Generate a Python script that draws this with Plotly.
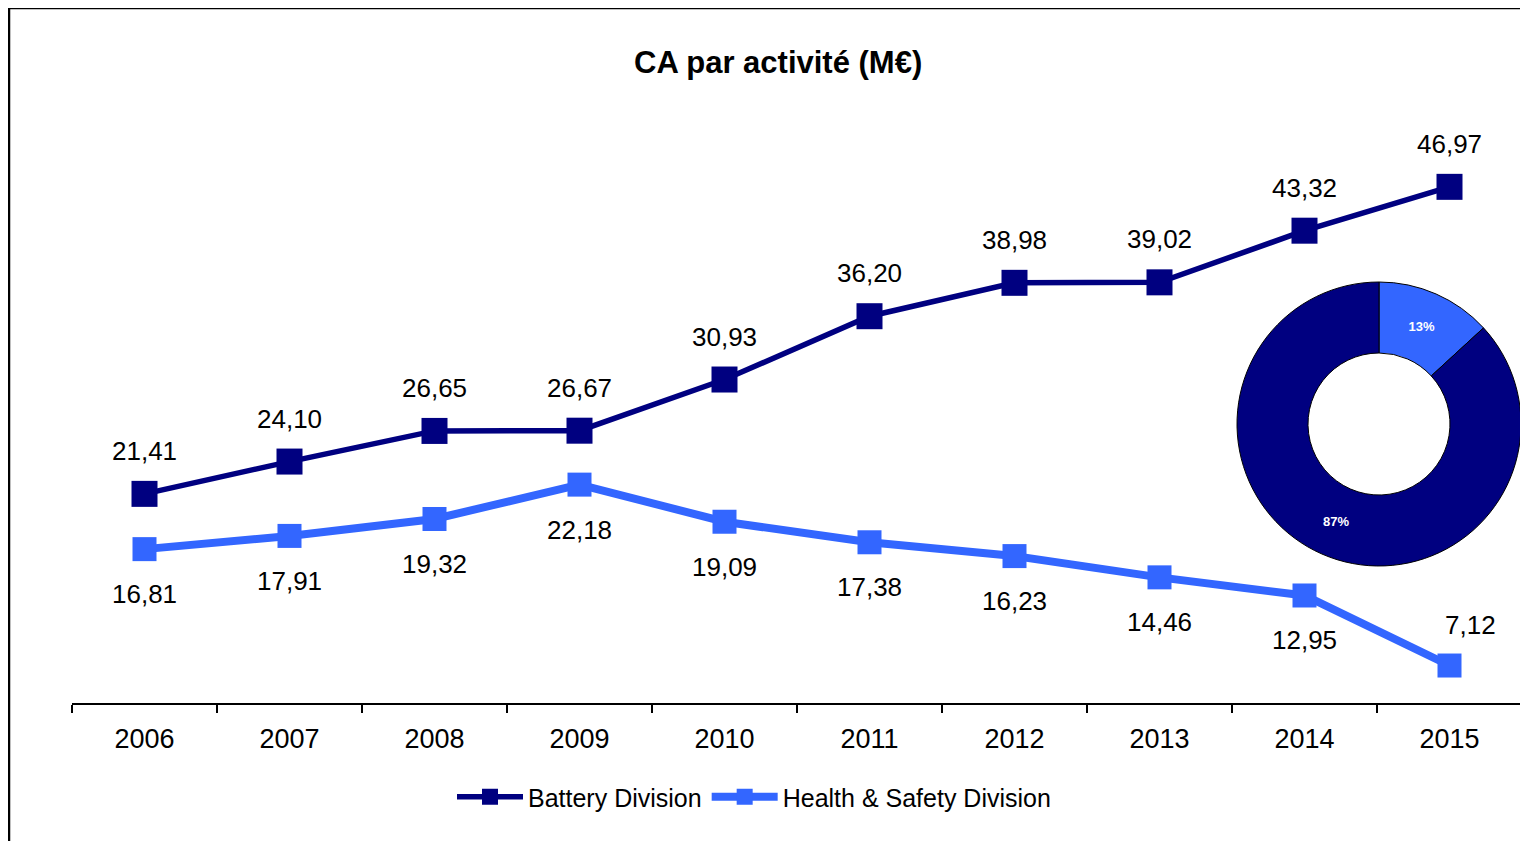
import plotly.graph_objects as go

years = ["2006", "2007", "2008", "2009", "2010", "2011", "2012", "2013", "2014", "2015"]
battery = [21.41, 24.10, 26.65, 26.67, 30.93, 36.20, 38.98, 39.02, 43.32, 46.97]
health = [16.81, 17.91, 19.32, 22.18, 19.09, 17.38, 16.23, 14.46, 12.95, 7.12]
series_names = ["Battery Division", "Health & Safety Division"]
title_text = "CA par activité (M€)"

DARK = "#000080"
LIGHT = "#3366FF"
FONT = "Liberation Sans, Arial, sans-serif"

# page body adds an 8px offset; figure is sized so it ends at the window edge
OFF = 8
W, H = 1528 - OFF, 841 - OFF


def fx(x):
    return (x - OFF) / W


def fy(y):
    return 1 - (y - OFF) / H


def fmt(v):
    return f"{v:.2f}".replace(".", ",")


fig = go.Figure()

fig.add_trace(go.Scatter(
    x=years, y=battery, mode="lines+markers", name=series_names[0],
    line=dict(color=DARK, width=5.5),
    marker=dict(symbol="square", size=26, color=DARK),
    hoverinfo="skip",
))
fig.add_trace(go.Scatter(
    x=years, y=health, mode="lines+markers", name=series_names[1],
    line=dict(color=LIGHT, width=8),
    marker=dict(symbol="square", size=24, color=LIGHT),
    hoverinfo="skip",
))

# Donut for the last year
fig.add_trace(go.Pie(
    values=[health[-1], battery[-1]],
    labels=[series_names[1], series_names[0]],
    marker=dict(colors=[LIGHT, DARK], line=dict(color="black", width=1)),
    hole=0.5, sort=False, direction="clockwise", rotation=0,
    textinfo="percent", texttemplate="<b>%{percent:.0%}</b>",
    textposition="inside", insidetextorientation="horizontal",
    textfont=dict(color="white", size=13, family=FONT),
    showlegend=False, hoverinfo="skip",
    domain=dict(x=[fx(1379 - 142), fx(1379 + 142)],
                y=[fy(424 + 142), fy(424 - 142)]),
))

annotations = []
for i, v in enumerate(battery):
    annotations.append(dict(x=i, y=v, xref="x", yref="y", text=fmt(v), showarrow=False,
                            yshift=43, font=dict(size=26, color="black", family=FONT)))
for i, v in enumerate(health):
    last = i == len(health) - 1
    annotations.append(dict(x=i, y=v, xref="x", yref="y", text=fmt(v), showarrow=False,
                            yshift=41 if last else -45, xshift=21 if last else 0,
                            font=dict(size=26, color="black", family=FONT)))

annotations.append(dict(x=fx(778), y=fy(62), xref="paper", yref="paper",
                        text="<b>" + title_text + "</b>", showarrow=False,
                        xanchor="center", yanchor="middle",
                        font=dict(size=31, color="black", family=FONT)))

fig.update_layout(
    width=W, height=H,
    margin=dict(l=0, r=0, t=0, b=0),
    paper_bgcolor="white", plot_bgcolor="white",
    font=dict(family=FONT, color="black"),
    annotations=annotations,
    showlegend=True,
    legend=dict(orientation="h", x=fx(754), y=fy(797), xanchor="center", yanchor="middle",
                font=dict(size=25, color="black", family=FONT),
                itemwidth=66, bgcolor="rgba(0,0,0,0)"),
    xaxis=dict(type="category", domain=[fx(72), fx(1522)], range=[-0.5, 9.5],
               showline=True, linecolor="black", linewidth=2,
               ticks="outside", tickson="boundaries", ticklen=8, tickwidth=1.5,
               tickcolor="black", showgrid=False, zeroline=False,
               tickfont=dict(size=27, color="black", family=FONT),
               ticklabelstandoff=11, fixedrange=True),
    yaxis=dict(domain=[fy(703), fy(103)], range=[4, 53.95],
               visible=False, showgrid=False, zeroline=False, fixedrange=True),
    shapes=[dict(type="rect", xref="paper", yref="paper",
                 x0=fx(9), x1=1.02, y0=-0.02, y1=fy(8),
                 line=dict(color="black", width=2.5), layer="above")],
)

fig.write_html("out.html")
